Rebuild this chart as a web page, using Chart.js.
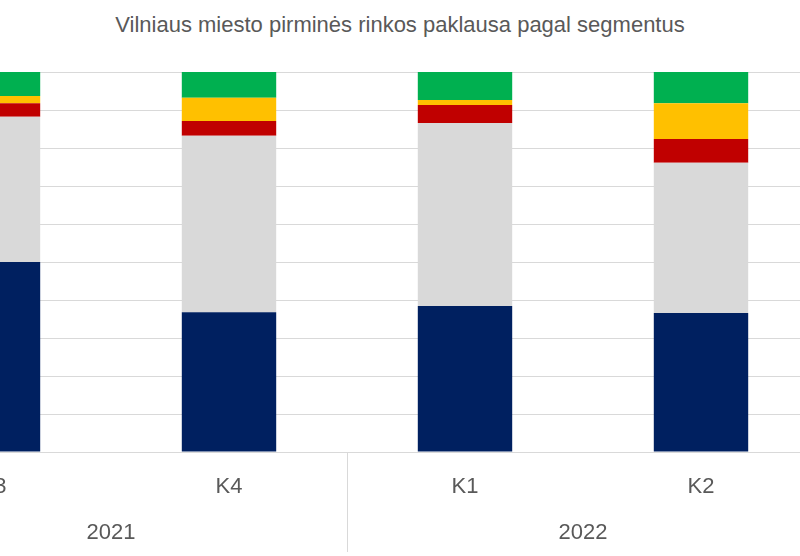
<!DOCTYPE html>
<html><head><meta charset="utf-8">
<script src="https://cdn.jsdelivr.net/npm/chart.js@4"></script>
<style>
body{margin:0;width:800px;height:556px;overflow:hidden;background:#fff;position:relative;font-family:"Liberation Sans Narrow","Liberation Sans",Arial,sans-serif}
#title{position:absolute;top:12px;left:0;width:800px;text-align:center;font-size:22px;color:#595959}
#wrap{position:absolute;left:-125px;top:0;width:1180px;height:556px}
</style></head><body>
<div id="title">Vilniaus miesto pirminės rinkos paklausa pagal segmentus</div>
<div id="wrap"><canvas id="c"></canvas></div>
<script>
const quarters = ["K3", "K4", "K1", "K2", "K3"];
const years = [["2021", 0, 1], ["2022", 2, 3]];
const navy = [50.0, 36.8, 38.4, 36.6, null];
const grey = [38.2, 46.4, 48.2, 39.5, null];
const red = [3.6, 3.9, 4.7, 6.3, null];
const yellow = [1.9, 6.1, 1.3, 9.4, null];
const green = [6.3, 6.8, 7.4, 8.2, null];

const labelsPlugin = {
  id: "labels",
  afterDraw(chart) {
    const c = chart.ctx, x = chart.scales.x, a = chart.chartArea;
    c.save();
    c.strokeStyle = "#d9d9d9"; c.lineWidth = 1;
    c.beginPath(); c.moveTo(a.left, a.bottom + 0.5); c.lineTo(a.right, a.bottom + 0.5); c.stroke();
    c.fillStyle = "#595959"; c.textAlign = "center"; c.textBaseline = "middle";
    c.font = '22px "Liberation Sans Narrow","Liberation Sans",Arial';
    quarters.forEach((q, i) => c.fillText(q, x.getPixelForValue(i), 487));
    years.forEach(([y, i0, i1]) => {
      c.fillText(y, (x.getPixelForValue(i0) + x.getPixelForValue(i1)) / 2, 533);
    });
    [1.5, 3.5].forEach(v => {
      const px = Math.round((x.getPixelForValue(Math.floor(v)) + x.getPixelForValue(Math.ceil(v))) / 2) + 0.5;
      c.beginPath(); c.moveTo(px, a.bottom); c.lineTo(px, 552); c.stroke();
    });
    c.restore();
  }
};

new Chart(document.getElementById("c"), {
  type: "bar",
  data: {
    labels: quarters,
    datasets: [
      { label: "a", data: navy, backgroundColor: "#002060" },
      { label: "b", data: grey, backgroundColor: "#d9d9d9" },
      { label: "c", data: red, backgroundColor: "#c00000" },
      { label: "d", data: yellow, backgroundColor: "#ffc000" },
      { label: "e", data: green, backgroundColor: "#00b050" }
    ]
  },
  options: {
    responsive: true, maintainAspectRatio: false, animation: false,
    datasets: { bar: { categoryPercentage: 1, barPercentage: 0.4 } },
    layout: { padding: { top: 72, bottom: 104, left: 0, right: 0 } },
    plugins: { legend: { display: false }, tooltip: { enabled: false } },
    scales: {
      x: { stacked: true, display: false },
      y: { stacked: true, min: 0, max: 100,
           ticks: { display: false, stepSize: 10 },
           border: { display: false },
           grid: { color: "#d9d9d9", drawTicks: false },
           afterFit: s => { s.width = 0; } }
    }
  },
  plugins: [labelsPlugin]
});
</script></body></html>
